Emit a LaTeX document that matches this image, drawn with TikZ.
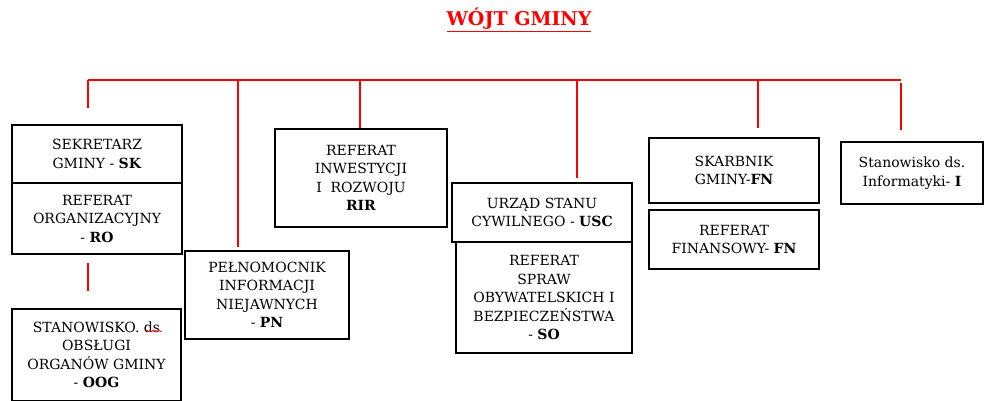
\documentclass[tikz,border=0pt]{standalone}
\usepackage{fontspec}
\setmainfont{DejaVu Serif}
\usetikzlibrary{positioning, decorations.pathmorphing}

\begin{document}
\begin{tikzpicture}[
    x=1pt, y=-1pt,
    every node/.style={font=\fontsize{14}{18.5}\selectfont},
    box/.style   ={draw, line width=1.3pt, align=center, inner sep=2pt,
                   outer sep=0pt, minimum width=170pt},
    title/.style ={text=red, font=\fontsize{19}{22}\selectfont\bfseries},
    link/.style  ={red, line width=2.8pt},
]
\useasboundingbox (0,0) rectangle (984,400);
\clip (0,0) rectangle (984,400);
\node[title] (wojt) at (519,20) {\underline{WÓJT GMINY}};
% taps on the red bar
\coordinate (t1) at (88,80);
\coordinate (t2) at (238,80);
\coordinate (t3) at (360,80);
\coordinate (t4) at (577,80);
\coordinate (t5) at (758,80);
\coordinate (t6) at (901,80);
\node[box, minimum height=58pt] (sk) at (97,154)
     {SEKRETARZ\\GMINY - \textbf{SK}};
\node[box, minimum height=71pt, below=0pt of sk] (ro)
     {REFERAT\\ORGANIZACYJNY\\- \textbf{RO}};
\node[box, minimum width=169pt, minimum height=92pt] (oog) at (96.5,355)
     {STANOWISKO. ds\\OBSŁUGI\\ORGANÓW GMINY\\- \textbf{OOG}};
\node[box, minimum width=164pt, minimum height=88pt] (pn) at (267,295)
     {PEŁNOMOCNIK\\INFORMACJI\\NIEJAWNYCH\\- \textbf{PN}};
\node[box, minimum width=172pt, minimum height=98pt] (rir) at (361,178)
     {REFERAT\\INWESTYCJI\\I~~ROZWOJU\\\textbf{RIR}};
\node[box, minimum width=180pt, minimum height=59pt] (usc) at (542,212.5)
     {URZĄD STANU\\CYWILNEGO - \textbf{USC}};
\node[box, minimum width=176pt, minimum height=111pt, anchor=north east]
     (so) at (usc.south east)
     {REFERAT\\SPRAW\\OBYWATELSKICH I\\BEZPIECZEŃSTWA\\- \textbf{SO}};
\node[box, minimum height=65pt] (skar) at (734,170.5)
     {SKARBNIK\\GMINY-\textbf{FN}};
\node[box, minimum height=59pt, below=7pt of skar] (fin)
     {REFERAT\\FINANSOWY- \textbf{FN}};
\node[box, minimum width=142pt, minimum height=62pt] (inf) at (912,173)
     {Stanowisko ds.\\Informatyki- \textbf{I}};
% red bar and drops
\draw[link] (t1) -- (t6);
\draw[link, shorten >=17pt] (t1) -- (t1 |- sk.north);
\draw[link, shorten >=4pt]  (t2) -- (t2 |- pn.north);
\draw[link, shorten >=1pt]  (t3) -- (t3 |- rir.north);
\draw[link, shorten >=5pt]  (t4) -- (t4 |- usc.north);
\draw[link, shorten >=10pt] (t5) -- (t5 |- skar.north);
\draw[link, shorten <=3pt, shorten >=12pt] (t6) -- (t6 |- inf.north);
\draw[link, shorten <=9pt, shorten >=18pt] (ro.south -| t1) -- (oog.north -| t1);
% spell-check squiggle under "ds"
\draw[red, line width=0.6pt, decorate,
      decoration={snake, amplitude=0.8pt, segment length=3pt}]
     (146,331) -- (162,331);
\end{tikzpicture}
\end{document}
